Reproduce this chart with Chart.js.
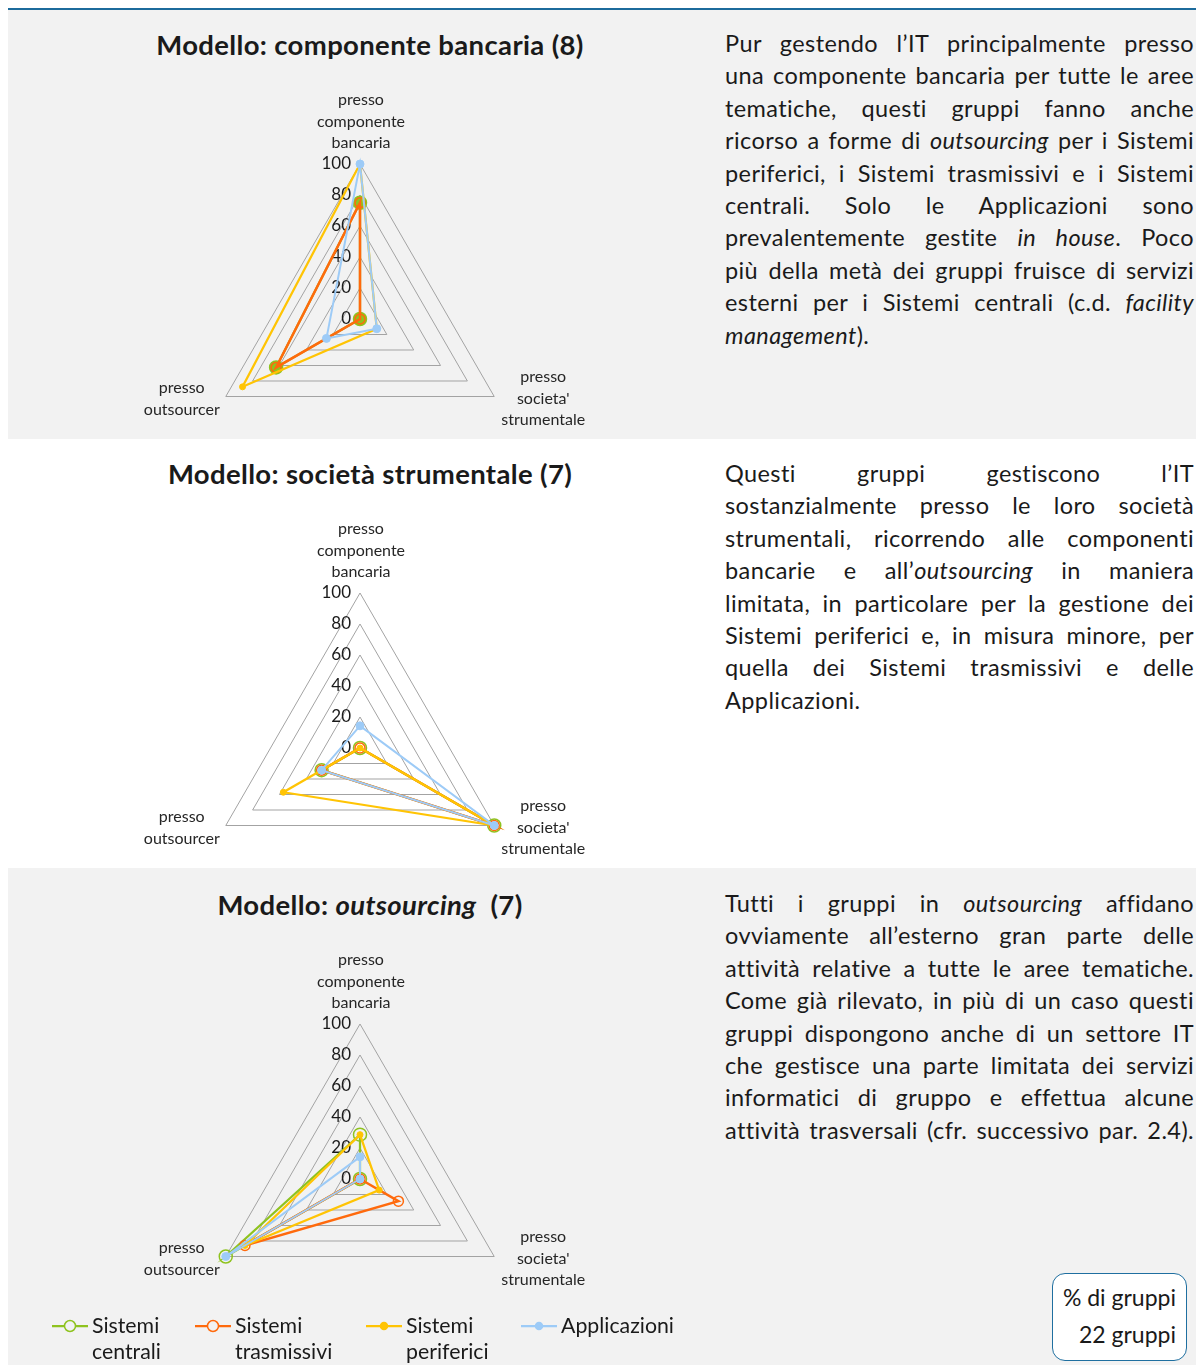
<!DOCTYPE html>
<html lang="it">
<head>
<meta charset="utf-8">
<script src="https://cdn.jsdelivr.net/npm/chart.js@4.4.1/dist/chart.umd.min.js"></script>
<style>
  body { margin: 0; width: 1196px; height: 1365px; position: relative; overflow: hidden;
         background: #fff; font-family: Lato, "Open Sans", sans-serif; color: #1a1a1a; }
  .rule { position: absolute; left: 8px; top: 8px; width: 1188px; height: 2.5px; background: #1c6b9c; }
  .panel { position: absolute; left: 8px; width: 1188px; background: #f2f2f2; }
  .title { position: absolute; left: 130px; width: 480px; text-align: center;
           font-weight: bold; font-size: 27.5px; letter-spacing: 0.35px; line-height: 32px; white-space: pre; }
  .par { position: absolute; left: 725px; width: 469px; font-size: 23.5px; letter-spacing: 0.4px; line-height: 32.4px; }
  .par span { display: block; text-align: justify; text-align-last: justify; }
  .par span.last { text-align-last: left; }
  canvas { position: absolute; left: 130px; }
  .legend { position: absolute; top: 1312px; left: 0; font-size: 21.3px; line-height: 26px; }
  .legend .item { position: absolute; top: 0; white-space: nowrap; }
  .legend svg { position: absolute; top: 7px; }
  .legend .lbl { position: absolute; top: 0; }
  .note { position: absolute; left: 1052px; top: 1273px; width: 133px; height: 86px;
          border: 1.5px solid #1f6fa0; border-radius: 13px; background: #fff;
          font-size: 23px; line-height: 37px; text-align: right; }
  .note div { padding-right: 10px; }
  .note div:first-child { margin-top: 5px; }
</style>
</head>
<body>
<div class="rule"></div>
<div class="panel" style="top:10px;height:429px"></div>
<div class="panel" style="top:868px;height:497px"></div>

<div class="title" style="top:29px">Modello: componente bancaria (8)</div>
<div class="title" style="top:458px">Modello: società strumentale (7)</div>
<div class="title" style="top:889px">Modello: <i>outsourcing</i>  (7)</div>

<div class="par" style="top:27px">
  <span>Pur gestendo l’IT principalmente presso</span>
  <span>una componente bancaria per tutte le aree</span>
  <span>tematiche, questi gruppi fanno anche</span>
  <span>ricorso a forme di <i>outsourcing</i> per i Sistemi</span>
  <span>periferici, i Sistemi trasmissivi e i Sistemi</span>
  <span>centrali. Solo le Applicazioni sono</span>
  <span>prevalentemente gestite <i>in house</i>. Poco</span>
  <span>più della metà dei gruppi fruisce di servizi</span>
  <span>esterni per i Sistemi centrali (c.d. <i>facility</i></span>
  <span class="last"><i>management</i>).</span>
</div>
<div class="par" style="top:457px">
  <span>Questi gruppi gestiscono l’IT</span>
  <span>sostanzialmente presso le loro società</span>
  <span>strumentali, ricorrendo alle componenti</span>
  <span>bancarie e all’<i>outsourcing</i> in maniera</span>
  <span>limitata, in particolare per la gestione dei</span>
  <span>Sistemi periferici e, in misura minore, per</span>
  <span>quella dei Sistemi trasmissivi e delle</span>
  <span class="last">Applicazioni.</span>
</div>
<div class="par" style="top:887px">
  <span>Tutti i gruppi in <i>outsourcing</i> affidano</span>
  <span>ovviamente all’esterno gran parte delle</span>
  <span>attività relative a tutte le aree tematiche.</span>
  <span>Come già rilevato, in più di un caso questi</span>
  <span>gruppi dispongono anche di un settore IT</span>
  <span>che gestisce una parte limitata dei servizi</span>
  <span>informatici di gruppo e effettua alcune</span>
  <span>attività trasversali (cfr. successivo par. 2.4).</span>
</div>

<canvas id="radarBanca" width="460" height="400" style="top:80px"></canvas>
<canvas id="radarStrum" width="460" height="400" style="top:509px"></canvas>
<canvas id="radarOut" width="460" height="400" style="top:940px"></canvas>

<div class="legend" id="legend"></div>
<div class="note"><div>% di gruppi</div><div>22 gruppi</div></div>

<script>
// assi e scala (% di gruppi)
const axisLabels = [
  ["presso", "componente", "bancaria"],
  ["presso", "societa'", "strumentale"],
  ["presso", "outsourcer"]
];
const rTicks = [0, 20, 40, 60, 80, 100];
const seriesNames = [["Sistemi", "centrali"], ["Sistemi", "trasmissivi"], ["Sistemi", "periferici"], ["Applicazioni"]];

// modello componente bancaria (8 gruppi)
const bancaCentrali = [75, 0, 62.5];
const bancaTrasmissivi = [75, 0, 62.5];
const bancaPeriferici = [100, 12.5, 87.5];
const bancaApplicazioni = [100, 12.5, 25];

// modello società strumentale (7 gruppi)
const strumCentrali = [0, 100, 28.6];
const strumTrasmissivi = [0, 100, 28.6];
const strumPeriferici = [0, 100, 57.1];
const strumApplicazioni = [14.3, 100, 28.6];

// modello outsourcing (7 gruppi)
const outCentrali = [28.6, 0, 100];
const outTrasmissivi = [0, 28.6, 85.7];
const outPeriferici = [28.6, 14.3, 85.7];
const outApplicazioni = [14.3, 0, 100];

const seriesStyle = [
  { color: "#8fc31f", width: 2.25, radius: 6.5, border: 1.5, ring: true, order: 4 },
  { color: "#ff6a0d", width: 2.5, radius: 5, border: 1.5, ring: true, order: 3 },
  { color: "#ffc404", width: 2.25, radius: 3, border: 1, ring: false, order: 2 },
  { color: "#9dcbf7", width: 2, radius: 4, border: 1, ring: false, order: 1 }
];

// offset of each axis name from the 100 vertex
const labelOffsets = [
  { dx: 1, dy: -64 },
  { dx: 49, dy: -19.5 },
  { dx: -44, dy: -8.5 }
];

const axisText = {
  id: "axisText",
  beforeDatasetsDraw(chart) {
    const r = chart.scales.r;
    const ctx = chart.ctx;
    ctx.save();
    ctx.textBaseline = "middle";
    ctx.font = "17px Lato";
    ctx.fillStyle = "#1a1a1a";
    ctx.textAlign = "right";
    rTicks.forEach(v => {
      ctx.fillText(String(v), r.xCenter - 9, r.yCenter - r.getDistanceFromCenterForValue(v));
    });
    ctx.font = "16px Lato";
    ctx.fillStyle = "#262626";
    ctx.textAlign = "center";
    axisLabels.forEach((lines, i) => {
      const p = r.getPointPositionForValue(i, 100);
      const off = labelOffsets[i];
      lines.forEach((t, k) => ctx.fillText(t, p.x + off.dx, p.y + off.dy + k * 21.5));
    });
    ctx.restore();
  }
};

function makeRadar(id, series, filledCentral) {
  const datasets = series.map((data, i) => {
    const s = seriesStyle[i];
    let pointBg = s.ring ? "rgba(0,0,0,0)" : s.color;
    if (i === 0 && filledCentral) pointBg = s.color;
    return {
      label: seriesNames[i].join(" "),
      data: data,
      borderColor: s.color,
      borderWidth: s.width,
      backgroundColor: s.color,
      fill: false,
      tension: 0,
      pointRadius: s.radius,
      pointBorderWidth: s.border,
      pointBorderColor: s.color,
      pointBackgroundColor: pointBg,
      order: s.order,
      clip: false
    };
  });
  return new Chart(document.getElementById(id).getContext("2d"), {
    type: "radar",
    data: { labels: axisLabels, datasets: datasets },
    options: {
      responsive: false,
      animation: false,
      layout: { padding: { left: 75, right: 75, top: 84, bottom: 6 } },
      plugins: { legend: { display: false }, tooltip: { enabled: false } },
      scales: {
        r: {
          min: 0,
          max: 100,
          ticks: { display: false, stepSize: 20 },
          grid: { color: "#a3a3a3", lineWidth: 1 },
          angleLines: { display: false },
          pointLabels: { display: false }
        }
      }
    },
    plugins: [axisText]
  });
}

makeRadar("radarBanca", [bancaCentrali, bancaTrasmissivi, bancaPeriferici, bancaApplicazioni], true);
makeRadar("radarStrum", [strumCentrali, strumTrasmissivi, strumPeriferici, strumApplicazioni], false);
makeRadar("radarOut", [outCentrali, outTrasmissivi, outPeriferici, outApplicazioni], false);

// legend under the last chart
const legendX = [52, 195, 366, 521];
const legend = document.getElementById("legend");
seriesNames.forEach((name, i) => {
  const s = seriesStyle[i];
  const item = document.createElement("div");
  item.className = "item";
  item.style.left = legendX[i] + "px";
  const fill = s.ring ? "#f2f2f2" : s.color;
  item.innerHTML =
    '<svg width="36" height="14"><line x1="0" y1="7" x2="36" y2="7" stroke="' + s.color +
    '" stroke-width="2.25"/><circle cx="18" cy="7" r="' + (s.ring ? 5.5 : 3.5) + '" fill="' + fill +
    '" stroke="' + s.color + '" stroke-width="1.5"/></svg>' +
    '<div class="lbl" style="left:40px">' + name.join("<br>") + "</div>";
  legend.appendChild(item);
});
</script>
</body>
</html>
